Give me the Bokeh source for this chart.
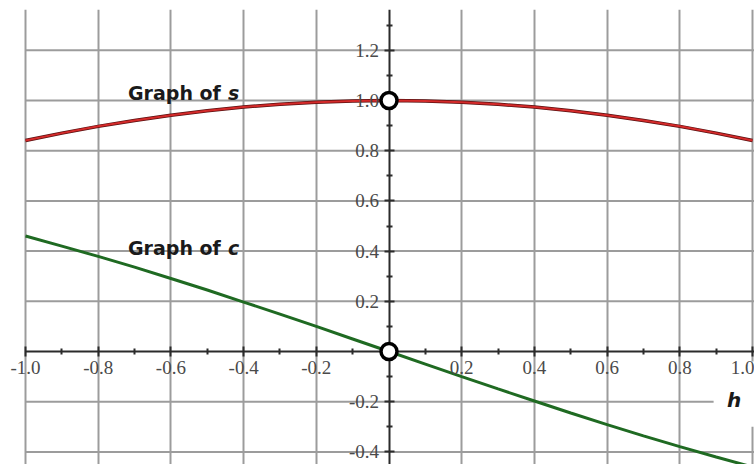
from bokeh.plotting import figure
from bokeh.models import Range1d, FixedTicker, PrintfTickFormatter, ColumnDataSource
from bokeh.core.properties import value
from bokeh.embed import file_html
from bokeh.resources import INLINE

# ---- data ----
h_vals = [-1.0, -0.9, -0.8, -0.7, -0.6, -0.5, -0.4, -0.3, -0.2, -0.1, 0.0,
          0.1, 0.2, 0.3, 0.4, 0.5, 0.6, 0.7, 0.8, 0.9, 1.0]
s_vals = [0.841, 0.870, 0.897, 0.920, 0.941, 0.959, 0.974, 0.985, 0.993, 0.998, 1.0,
          0.998, 0.993, 0.985, 0.974, 0.959, 0.941, 0.920, 0.897, 0.870, 0.841]
c_vals = [0.460, 0.420, 0.379, 0.336, 0.291, 0.245, 0.197, 0.149, 0.100, 0.050, 0.0,
          -0.050, -0.100, -0.149, -0.197, -0.245, -0.291, -0.336, -0.379, -0.420, -0.460]
hole_h = [0.0, 0.0]
hole_y = [1.0, 0.0]
x_major = [-1.0, -0.8, -0.6, -0.4, -0.2, 0.2, 0.4, 0.6, 0.8, 1.0]
x_minor = [-0.9, -0.7, -0.5, -0.3, -0.1, 0.1, 0.3, 0.5, 0.7, 0.9]
y_major = [-0.4, -0.2, 0.2, 0.4, 0.6, 0.8, 1.0, 1.2]
y_minor = [-0.5, -0.3, -0.1, 0.1, 0.3, 0.5, 0.7, 0.9, 1.1, 1.3]
label_s = "Graph of"
label_var_s = "s"
label_var_c = "c"
axis_name = "h"

X_START, X_END = -1.0688, 1.0055
p = figure(width=754, height=464, output_backend="svg", toolbar_location=None,
           x_range=Range1d(X_START, X_END), y_range=Range1d(-0.450, 1.3625),
           min_border_left=0, min_border_right=0, min_border_top=9, min_border_bottom=0)
p.outline_line_color = None
p.background_fill_color = "white"

for ax in (p.xaxis[0], p.yaxis[0]):
    ax.fixed_location = 0
    ax.axis_line_color = "#2b2b2b"
    ax.axis_line_width = 2
    ax.major_tick_line_color = "#2b2b2b"
    ax.major_tick_line_width = 2
    ax.minor_tick_line_color = "#2b2b2b"
    ax.minor_tick_line_width = 2
    ax.major_tick_in = 5
    ax.major_tick_out = 5
    ax.minor_tick_in = 3
    ax.minor_tick_out = 3
    ax.major_label_text_font = "Liberation Serif"
    ax.major_label_text_font_size = "19px"
    ax.major_label_text_color = "#4a4a4a"
    ax.formatter = PrintfTickFormatter(format="%.1f")

p.xaxis[0].ticker = FixedTicker(ticks=x_major, minor_ticks=x_minor)
p.yaxis[0].ticker = FixedTicker(ticks=y_major, minor_ticks=y_minor)
p.xaxis[0].bounds = (x_major[0], X_END)
p.xaxis[0].major_label_standoff = 4
p.yaxis[0].major_label_standoff = 5

p.xgrid[0].grid_line_color = "#9c9c9c"
p.xgrid[0].grid_line_width = 2
p.ygrid[0].grid_line_color = None

# horizontal grid lines begin at h = -1, as in the reference
hgrid = p.segment(x0=[x_major[0]] * len(y_major), y0=y_major,
                  x1=[X_END + 0.1] * len(y_major), y1=y_major,
                  line_color="#9c9c9c", line_width=2)
hgrid.level = "underlay"

# white patch behind the axis name
p.quad(left=0.893, right=1.1, bottom=-0.30, top=-0.04, fill_color="white", line_color=None)

src = ColumnDataSource(dict(h=h_vals, s=s_vals, c=c_vals))
p.line("h", "s", source=src, line_color="#5a1010", line_width=3.5)
p.line("h", "s", source=src, line_color="#d42a2a", line_width=2)
p.line("h", "c", source=src, line_color="#1f6a22", line_width=3)

holes = p.scatter(hole_h, hole_y, size=16, fill_color="white", line_color="black", line_width=3.5)
holes.level = "overlay"

p.text(x=[-0.718, -0.718], y=[1.028, 0.414], text=[label_s, label_s],
       text_font=value("DejaVu Sans"), text_font_style="bold", text_font_size="19px",
       text_color="#1a1a1a", text_baseline="alphabetic", text_align="left")
p.text(x=[-0.718], y=[1.028], text=[label_var_s], x_offset=100,
       text_font=value("DejaVu Sans"), text_font_style="bold italic", text_font_size="19px",
       text_color="#1a1a1a", text_baseline="alphabetic", text_align="left")
p.text(x=[-0.718], y=[0.414], text=[label_var_c], x_offset=100,
       text_font=value("DejaVu Sans"), text_font_style="bold italic", text_font_size="19px",
       text_color="#1a1a1a", text_baseline="alphabetic", text_align="left")
p.text(x=[0.93], y=[-0.195], text=[axis_name],
       text_font=value("DejaVu Sans"), text_font_style="bold italic", text_font_size="20px",
       text_color="#1a1a1a", text_baseline="alphabetic", text_align="left")

open("out.html", "w").write(file_html(p, INLINE))
